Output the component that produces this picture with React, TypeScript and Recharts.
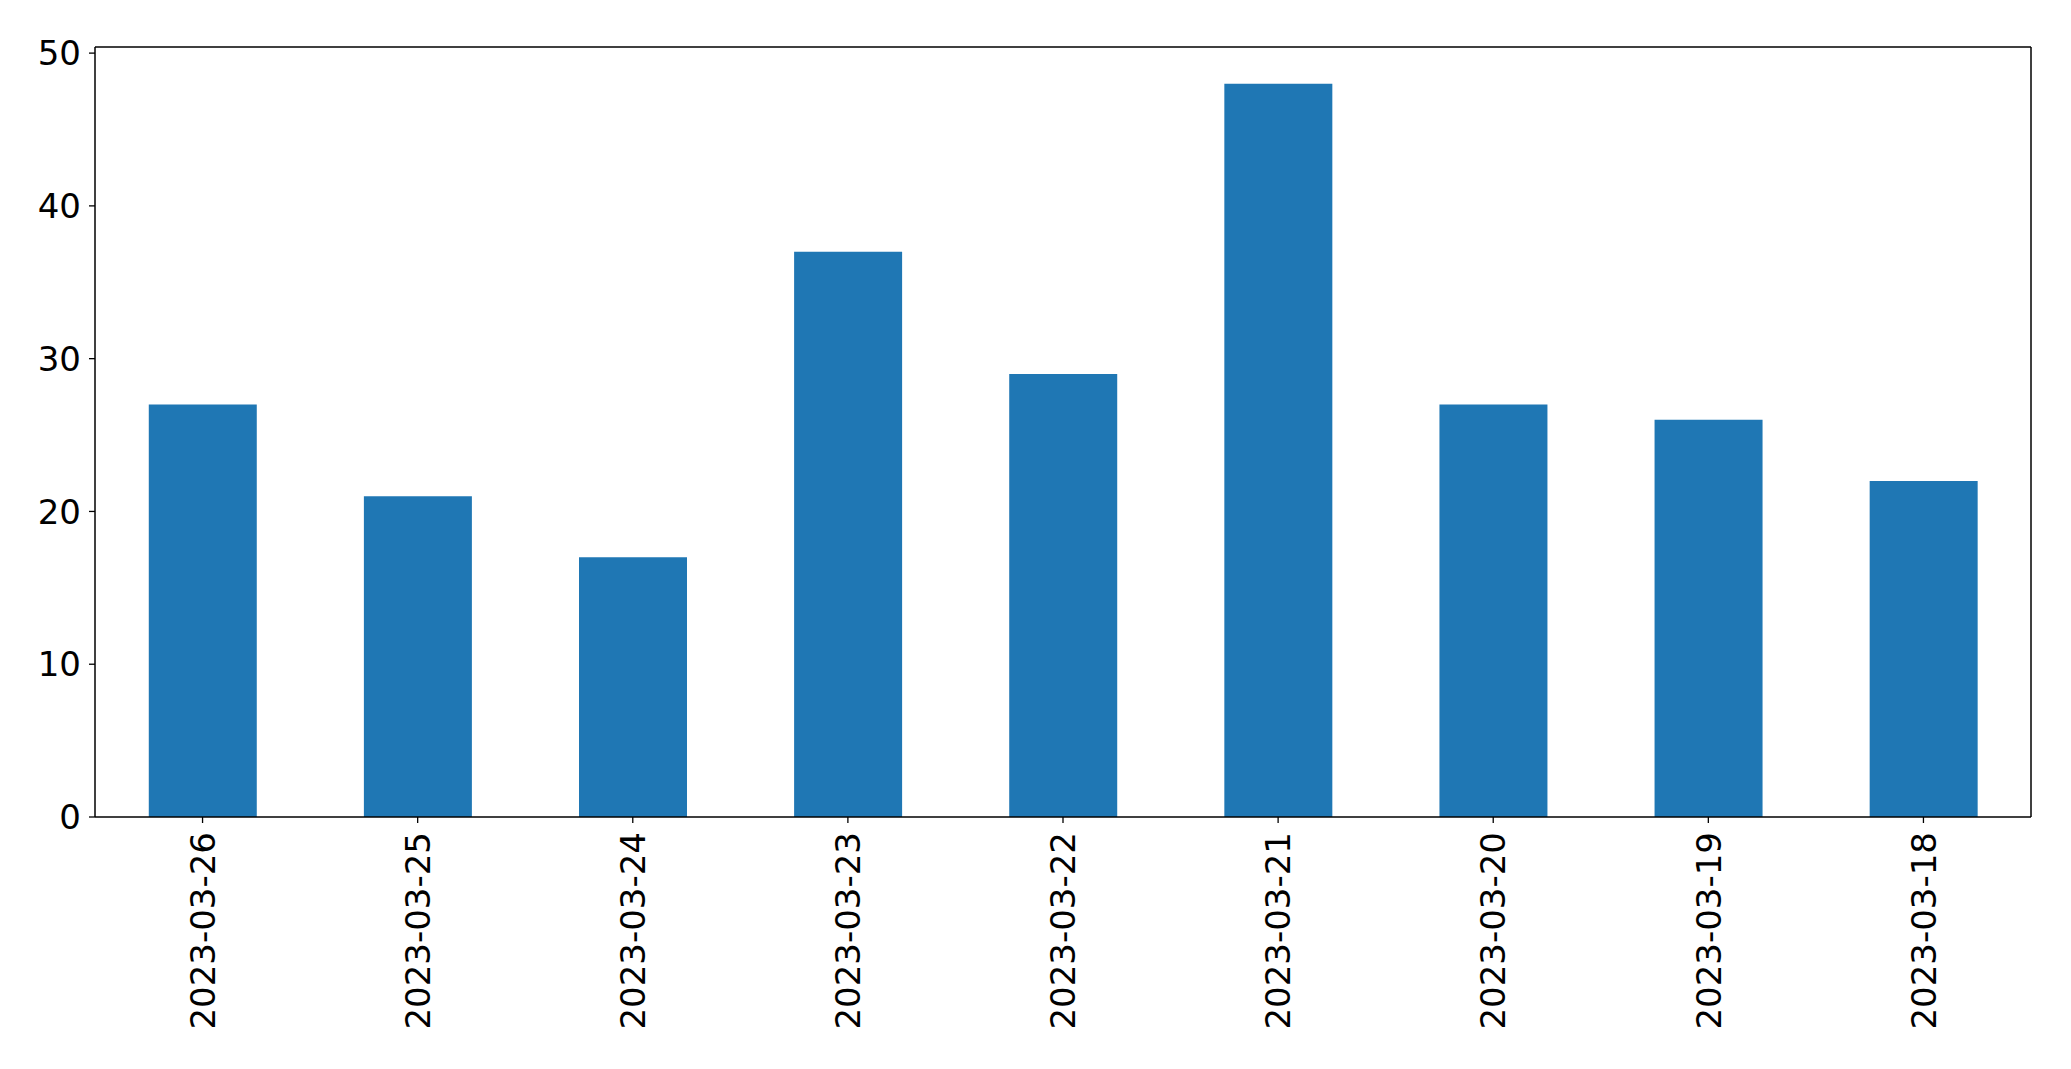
import React from "react";
import { BarChart, Bar, XAxis, YAxis } from "recharts";

const categories = [
  "2023-03-26",
  "2023-03-25",
  "2023-03-24",
  "2023-03-23",
  "2023-03-22",
  "2023-03-21",
  "2023-03-20",
  "2023-03-19",
  "2023-03-18",
];
const values = [27, 21, 17, 37, 29, 48, 27, 26, 22];
const yTicks = [0, 10, 20, 30, 40, 50];

const data = categories.map((c, i) => ({ date: c, value: values[i] }));

const FONT = "DejaVu Sans";
const FS = 34;

const XTick = (props: any) => {
  const { x, y, payload } = props;
  return (
    <g transform={`translate(${x},${y})`}>
      <text
        transform="rotate(-90)"
        x={0}
        y={0}
        dy="0.36em"
        textAnchor="end"
        fontFamily={FONT}
        fontSize={FS}
        fill="#000"
      >
        {payload.value}
      </text>
    </g>
  );
};

export default function App() {
  return (
    <div style={{ position: "absolute", left: 0, top: 0, background: "#fff" }}>
      <BarChart
        width={2071}
        height={1069}
        data={data}
        margin={{ top: 46, right: 39, bottom: 0, left: 0 }}
        barCategoryGap="25%"
      >
        <XAxis
          dataKey="date"
          xAxisId="main"
          height={252}
          tick={<XTick />}
          tickSize={6}
          tickMargin={9}
          interval={0}
          axisLine={{ stroke: "#000", strokeWidth: 1.5 }}
          tickLine={{ stroke: "#000", strokeWidth: 1.3 }}
        />
        <XAxis
          dataKey="date"
          xAxisId="top"
          orientation="top"
          height={1}
          tick={false}
          tickLine={false}
          axisLine={{ stroke: "#000", strokeWidth: 1.5 }}
        />
        <YAxis
          yAxisId="main"
          width={95}
          domain={[0, 50.4]}
          ticks={yTicks}
          tickSize={6}
          tickMargin={8}
          tick={{ fontFamily: FONT, fontSize: FS, fill: "#000" }}
          axisLine={{ stroke: "#000", strokeWidth: 1.5 }}
          tickLine={{ stroke: "#000", strokeWidth: 1.3 }}
        />
        <YAxis
          yAxisId="right"
          orientation="right"
          width={1}
          domain={[0, 50.4]}
          tick={false}
          tickLine={false}
          axisLine={{ stroke: "#000", strokeWidth: 1.5 }}
        />
        <Bar
          dataKey="value"
          xAxisId="main"
          yAxisId="main"
          fill="#1f77b4"
          isAnimationActive={false}
        />
      </BarChart>
    </div>
  );
}
